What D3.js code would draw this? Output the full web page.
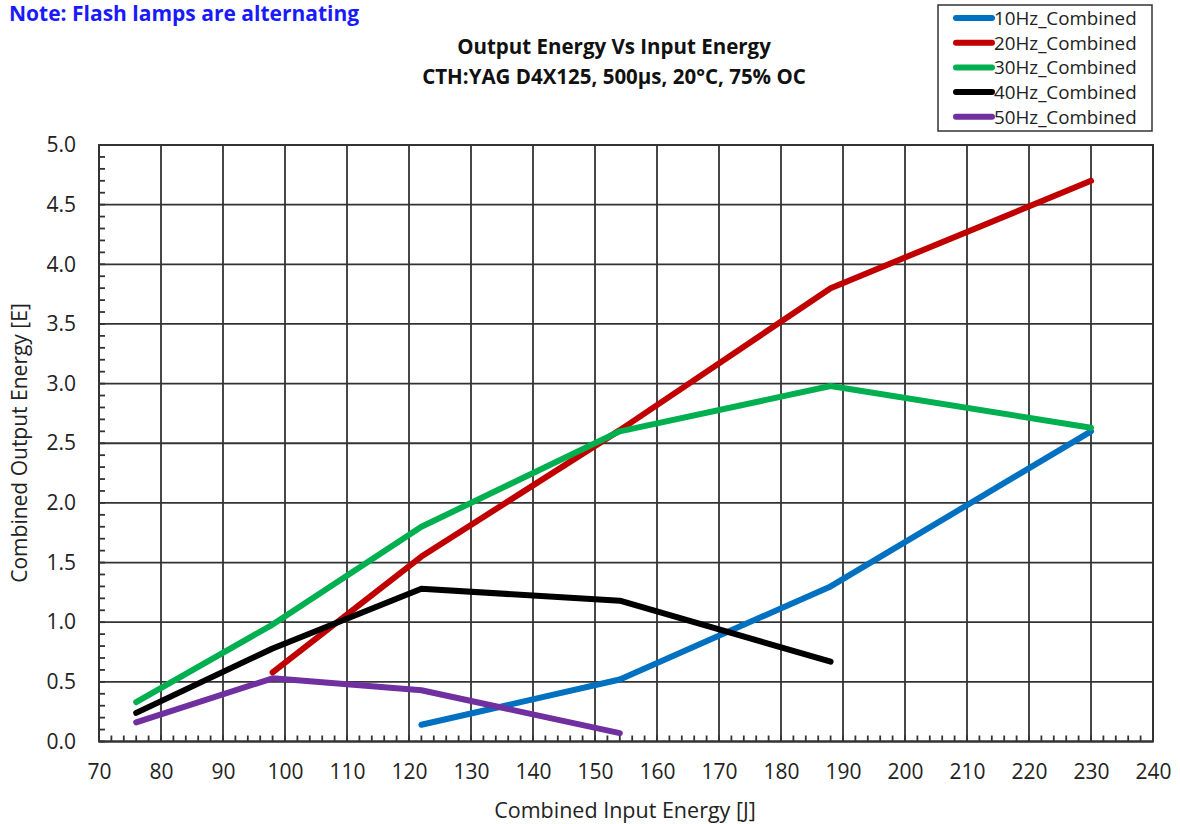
<!DOCTYPE html>
<html><head><meta charset="utf-8">
<script src="https://cdn.jsdelivr.net/npm/d3@7"></script>
<style>body{margin:0;background:#fff;}svg{display:block;font-family:"Open Sans",sans-serif;}</style>
</head><body><svg id="c" width="1180" height="824"></svg>
<script>
const seriesNames = ["10Hz_Combined","20Hz_Combined","30Hz_Combined","40Hz_Combined","50Hz_Combined"];
const seriesColors = ["#0070C0","#C00000","#00B050","#000000","#7030A0"];
const x10 = [122,154,188,230], y10 = [0.14,0.52,1.30,2.60];
const x20 = [98,122,154,188,230], y20 = [0.58,1.55,2.61,3.80,4.70];
const x30 = [76,98,122,154,188,230], y30 = [0.33,0.98,1.80,2.60,2.98,2.63];
const x40 = [76,98,122,154,188], y40 = [0.24,0.78,1.28,1.18,0.67];
const x50 = [76,98,122,154], y50 = [0.16,0.53,0.43,0.07];
const xTicks = d3.range(70,241,10);
const yTicks = d3.range(0,5.01,0.5);
const seriesX = [x10,x20,x30,x40,x50], seriesY = [y10,y20,y30,y40,y50];

const svg = d3.select("#c");
const L=99, R=1153, T=145, B=741.5;
const x = d3.scaleLinear().domain([70,240]).range([L,R]);
const y = d3.scaleLinear().domain([0,5]).range([B,T]);
const grid = "#333";

svg.append("g").selectAll("line").data(xTicks).join("line")
  .attr("x1",d=>x(d)).attr("x2",d=>x(d)).attr("y1",T).attr("y2",B)
  .attr("stroke",grid).attr("stroke-width",1.8);
svg.append("g").selectAll("line").data(yTicks).join("line")
  .attr("x1",L).attr("x2",R).attr("y1",d=>y(d)).attr("y2",d=>y(d))
  .attr("stroke",grid).attr("stroke-width",1.8);
const xMinor = d3.range(70,240.1,2), yMinor = d3.range(0,5.001,0.1);
svg.append("g").selectAll("line").data(xMinor).join("line")
  .attr("x1",d=>x(d)).attr("x2",d=>x(d)).attr("y1",B).attr("y2",B-6)
  .attr("stroke",grid).attr("stroke-width",1.8);
svg.append("g").selectAll("line").data(yMinor).join("line")
  .attr("x1",L).attr("x2",L+6).attr("y1",d=>y(d)).attr("y2",d=>y(d))
  .attr("stroke",grid).attr("stroke-width",1.8);
svg.append("rect").attr("x",L).attr("y",T).attr("width",R-L).attr("height",B-T)
  .attr("fill","none").attr("stroke",grid).attr("stroke-width",2);

const xa = svg.append("g").attr("transform",`translate(0,${B})`)
  .call(d3.axisBottom(x).tickValues(xTicks).tickSize(0).tickPadding(23).tickFormat(d3.format("d")));
xa.select(".domain").remove();
xa.selectAll("text").attr("font-size",21).attr("fill","#222").attr("font-family","Open Sans");
const ya = svg.append("g").attr("transform",`translate(${L},0)`)
  .call(d3.axisLeft(y).tickValues(yTicks).tickSize(0).tickPadding(23).tickFormat(d3.format(".1f")));
ya.select(".domain").remove();
ya.selectAll("text").attr("font-size",21).attr("fill","#222").attr("font-family","Open Sans");

const line = d3.line().x(d=>x(d[0])).y(d=>y(d[1]));
seriesNames.forEach((n,i)=>{
  const pts = seriesX[i].map((v,j)=>[v,seriesY[i][j]]);
  svg.append("path").attr("d",line(pts)).attr("fill","none")
    .attr("stroke",seriesColors[i]).attr("stroke-width",6)
    .attr("stroke-linecap","round").attr("stroke-linejoin","round");
});

svg.append("text").attr("x",614).attr("y",54).attr("text-anchor","middle")
  .attr("font-size",20.5).attr("font-weight","bold").attr("fill","#111")
  .text("Output Energy Vs Input Energy");
svg.append("text").attr("x",614).attr("y",84).attr("text-anchor","middle")
  .attr("font-size",20.5).attr("font-weight","bold").attr("fill","#111")
  .text("CTH:YAG D4X125, 500µs, 20°C, 75% OC");
svg.append("text").attr("x",9).attr("y",21)
  .attr("font-size",21).attr("font-weight","bold").attr("fill","#1a1aff")
  .text("Note: Flash lamps are alternating");
svg.append("text").attr("x",625).attr("y",818).attr("text-anchor","middle")
  .attr("font-size",21.5).attr("fill","#222").text("Combined Input Energy [J]");
svg.append("text").attr("transform","translate(27,443) rotate(-90)").attr("text-anchor","middle")
  .attr("font-size",21).attr("fill","#222").text("Combined Output Energy [E]");

const lg = svg.append("g");
lg.append("rect").attr("x",938).attr("y",5).attr("width",214).attr("height",126)
  .attr("fill","#fff").attr("stroke","#333").attr("stroke-width",1.5);
seriesNames.forEach((n,i)=>{
  const yy = 18 + i*24.7;
  lg.append("line").attr("x1",956).attr("x2",992).attr("y1",yy).attr("y2",yy)
    .attr("stroke",seriesColors[i]).attr("stroke-width",6).attr("stroke-linecap","round");
  lg.append("text").attr("x",994).attr("y",yy+7).attr("font-size",18.8).attr("fill","#222").text(n);
});
</script></body></html>
